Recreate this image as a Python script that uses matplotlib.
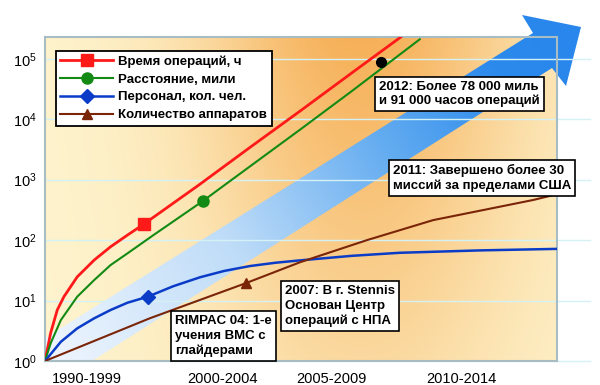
import numpy as np
import matplotlib
matplotlib.use('Agg')
import matplotlib.pyplot as plt
from matplotlib.patches import Polygon
from matplotlib.ticker import FixedLocator, FuncFormatter, NullLocator

plt.rcParams['font.family'] = ['Liberation Sans', 'DejaVu Sans']
plt.rcParams['mathtext.default'] = 'regular'

# x is a time index (0..10), periods are labelled on the axis
periods = ['1990-1999', '2000-2004', '2005-2009', '2010-2014']
period_pos = [0.82, 3.46, 5.6, 8.14]

x_hours = [0, 0.11, 0.24, 0.37, 0.63, 0.96, 1.28, 1.61, 1.93, 3.0, 4.0, 5.0, 6.0, 6.95]
hours = [1, 2.9, 7.0, 11.6, 24.7, 46.7, 77.5, 121, 184, 810, 3400, 14000, 59000, 229000]

x_miles = [0, 0.11, 0.31, 0.63, 0.96, 1.28, 1.61, 2.13, 3.08, 4.0, 5.0, 6.0, 7.32]
miles = [1, 1.96, 4.76, 11.6, 21.8, 38.6, 60.3, 123, 441, 1650, 6900, 29500, 210000]

x_staff = [0, 0.31, 0.63, 0.96, 1.28, 1.61, 2.01, 2.5, 3.03, 3.5, 4.0, 4.5, 4.98, 6.0, 6.93, 8.5, 10]
staff = [1, 2.08, 3.47, 5.08, 6.97, 9.2, 11.6, 17.2, 24.3, 30.9, 37.2, 42.2, 46.2, 55, 61.7, 67.6, 71.6]

x_units = [0, 2.05, 3.93, 4.98, 6.29, 7.58, 9.53, 10]
units = [1, 5.1, 19.5, 43, 100, 214, 460, 575]

x_2012, val_2012 = 6.56, 88000

fig = plt.figure(figsize=(6, 3.85), dpi=100)

# decorative background: plot-area gradient and the big blue arrow (pixel coords)
bg = fig.add_axes([0, 0, 1, 1], zorder=0)
bg.set_xlim(0, 600)
bg.set_ylim(385, 0)
bg.axis('off')

L, R, T, B = 45, 557, 37, 361
gx, gy = np.meshgrid(np.linspace(0, 1, 300), np.linspace(1, 0, 200))
pale = np.array([254, 244, 206]) / 255
orange = np.array([246, 176, 88]) / 255
inten = np.exp(-((gx - 0.62) / 0.32) ** 2) * (0.4 + 0.6 * gy)
inten = np.clip(inten, 0, 1)
img = pale * (1 - inten[..., None]) + orange * inten[..., None]
bg.imshow(img, extent=(L, R, B, T), aspect='auto', zorder=0)

arrow = [(45, 338), (533, 33), (522, 15), (581, 27), (566, 86), (552, 68), (92, 361), (45, 361)]
poly = Polygon(arrow, closed=True, facecolor='none', edgecolor='none')
bg.add_patch(poly)
ax_, ay_ = np.meshgrid(np.linspace(40, 590, 400), np.linspace(10, 365, 300))
t = ((ax_ - 45) * 535 + (361 - ay_) * 334) / (535 ** 2 + 334 ** 2)
t = np.clip(t, 0, 1)[..., None]
stops = [0.0, 0.35, 0.65, 0.85, 1.0]
cols = np.array([[240, 246, 254], [190, 220, 248], [96, 170, 240], [44, 138, 236], [40, 134, 236]]) / 255
ct = np.stack([np.interp(t[..., 0], stops, cols[:, k]) for k in range(3)], axis=-1)
band = bg.imshow(ct, extent=(40, 590, 365, 10), aspect='auto', zorder=1)
band.set_clip_path(poly)

# main axes
ax = fig.add_axes([L / 600, (385 - B) / 385, (R - L) / 600, (B - T) / 385], zorder=1)
ax.set_facecolor('none')
ax.set_yscale('log')
ax.set_xlim(0, 10)
ax.set_ylim(1, 10 ** 5.36)

for k in range(6):
    ax.axhline(10 ** k, xmin=0, xmax=1.064, color='#d4f2f6', lw=1, clip_on=False, zorder=0.5)

ax.plot(x_hours, hours, color='#ff1a1a', lw=2, marker='s', ms=8, markevery=[8], zorder=3,
        label='Время операций, ч')
ax.plot(x_miles, miles, color='#138a13', lw=1.5, marker='o', ms=8, markevery=[8], zorder=3,
        label='Расстояние, мили')
ax.plot(x_staff, staff, color='#0a3cc8', lw=1.8, marker='D', ms=7, markevery=[6], zorder=3,
        label='Персонал, кол. чел.')
ax.plot(x_units, units, color='#7a2408', lw=1.5, marker='^', ms=7, markevery=[2], zorder=3,
        label='Количество аппаратов')
ax.plot([x_2012], [val_2012], 'o', color='black', ms=7, zorder=4)

ax.xaxis.set_major_locator(FixedLocator(period_pos))
ax.set_xticklabels(periods, fontsize=10.5)
ax.yaxis.set_major_locator(FixedLocator([10 ** k for k in range(6)]))
ax.yaxis.set_minor_locator(NullLocator())
ax.yaxis.set_major_formatter(FuncFormatter(lambda v, p: r'$10^{%d}$' % round(np.log10(v))))
ax.tick_params(axis='both', length=0, labelsize=10.5)
ax.tick_params(axis='x', pad=8)
ax.tick_params(axis='y', pad=6)
for s in ax.spines.values():
    s.set_color('#a8bcc4')
    s.set_linewidth(1.5)

leg = ax.legend(loc='upper left', bbox_to_anchor=(0.008, 0.978), fancybox=False, framealpha=1,
                edgecolor='black', handlelength=4.0, labelspacing=0.42, borderpad=0.35,
                handletextpad=0.4, prop={'weight': 'bold', 'size': 9.5})
leg.get_frame().set_linewidth(1.3)
leg.set_zorder(5)


def note(px, py, s):
    ax.text((px - L) / (R - L), (B - py) / (B - T), s, transform=ax.transAxes,
            fontsize=9.5, fontweight='bold', ha='left', va='center', linespacing=1.25,
            zorder=6, clip_on=False,
            bbox=dict(boxstyle='square,pad=0.3', fc='white', ec='black', lw=1.2))


note(379, 94, '2012: Более 78 000 миль\nи 91 000 часов операций')
note(393, 178, '2011: Завершено более 30\nмиссий за пределами США')
note(285, 306, '2007: В г. Stennis\nОснован Центр\nопераций с НПА')
note(175, 336, 'RIMPAC 04: 1-е\nучения ВМС с\nглайдерами')

fig.savefig('out.png', dpi=100)
